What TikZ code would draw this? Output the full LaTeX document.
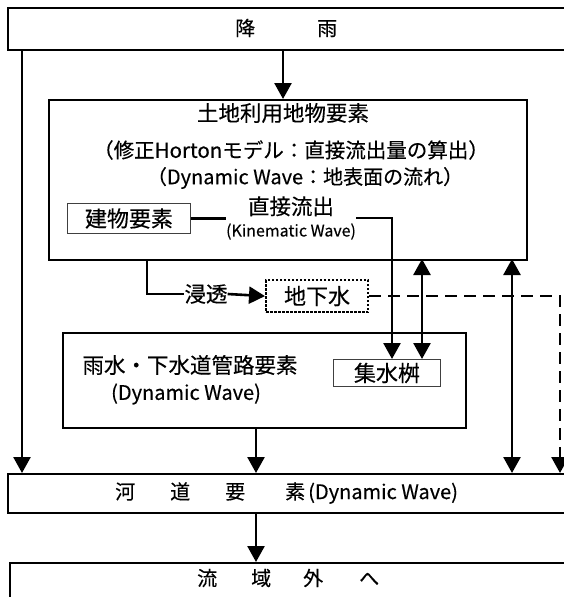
\documentclass[tikz,border=0pt]{standalone}
\usepackage{fontspec}
\setmainfont{Noto Sans CJK JP}[FakeBold=0.35]
\usetikzlibrary{arrows.meta}
\tikzset{
  box/.style={draw, line width=1.5pt, inner sep=0pt, anchor=north west},
  thinbox/.style={draw=black!75, line width=1pt, inner sep=0pt, anchor=north west, font=\fontsize{22}{26}\selectfont},
  dotbox/.style={draw, line width=2.2pt, dash pattern=on 2.4pt off 1.6pt, inner sep=0pt, anchor=north west, font=\fontsize{22}{26}\selectfont},
  txt/.style={inner sep=0pt, font=\fontsize{20}{24}\selectfont},
  bigtxt/.style={inner sep=0pt, font=\fontsize{21.5}{25}\selectfont},
  conn/.style={line width=2.6pt},
  arr/.style={line width=2.6pt, -{Triangle[length=16pt,width=17pt]}},
  darr/.style={line width=2.6pt, {Triangle[length=16pt,width=17pt]}-{Triangle[length=16pt,width=17pt]}},
  dasharr/.style={line width=2.6pt, dash pattern=on 12pt off 7pt, -{Triangle[length=16pt,width=17pt]}},
}
\begin{document}
\begin{tikzpicture}[x=1pt,y=-1pt]
\useasboundingbox (0,0) rectangle (564,597);
\clip (0,0) rectangle (564,597);
% boxes
\node[box, minimum width=700pt, minimum height=42pt] (rain) at (7,7) {};
\node[box, minimum width=478pt, minimum height=160pt] (land) at (48,99) {};
\node[thinbox, minimum width=123pt, minimum height=30pt] (build) at (67,203) {建物要素};
\node[dotbox, minimum width=102pt, minimum height=32pt] (gw) at (265,279) {地下水};
\node[box, minimum width=403pt, minimum height=95pt] (sewer) at (62,332) {};
\node[thinbox, minimum width=107pt, minimum height=27pt] (catch) at (333,359) {集水桝};
\node[box, minimum width=700pt, minimum height=39pt] (river) at (7,473) {};
\node[box, minimum width=700pt, minimum height=100pt] (out) at (9,562) {};
% texts
\node[txt, anchor=west] (raintxt) at (235,28) {降\hspace{62pt}雨};
\node[bigtxt] (landt1) at (283,113) {土地利用地物要素};
\node[txt, font=\fontsize{20.5}{24}\selectfont] (landt2) at (291,150) {（修正Hortonモデル：直接流出量の算出）};
\node[txt] (landt3) at (305,178) {（Dynamic Wave：地表面の流れ）};
\node[bigtxt, align=center] (runoff) at (291,218) {直接流出\\[-3pt]{\fontsize{16}{18}\selectfont (Kinematic Wave)}};
\node[bigtxt] (infil) at (206,294) {浸透};
\node[bigtxt] (sewert1) at (190,365) {雨水・下水道管路要素};
\node[txt] (sewert2) at (186,394) {(Dynamic Wave)};
\node[txt, anchor=west] (rivert) at (115,493) {河\hspace{35pt}道\hspace{35pt}要\hspace{40pt}素\hspace{3pt}(Dynamic Wave)};
\node[txt, anchor=west] (outt) at (197,578) {流\hspace{34pt}域\hspace{32pt}外\hspace{36pt}へ};
% coordinates
\coordinate (r1) at (283,49);   \coordinate (l1) at (283,99);
\coordinate (a1) at (22,49);    \coordinate (a2) at (22,473);
\coordinate (i1) at (147,259);
\coordinate (c1) at (392,359);
\coordinate (d1) at (422,259);  \coordinate (d2) at (422,359);
\coordinate (e1) at (512,259);  \coordinate (e2) at (512,473);
\coordinate (g2) at (560,473);
\coordinate (s1) at (256,427);  \coordinate (s2) at (256,473);
\coordinate (v1) at (256,512);  \coordinate (v2) at (256,562);
% connectors
\draw[arr] (r1) -- (l1);
\draw[arr] (a1) -- (a2);
\draw[conn] (build.east) -- (runoff.west |- build.east);
\draw[arr] (runoff.east) -| (c1);
\draw[darr] (d1) -- (d2);
\draw[conn] (i1) |- (infil.west);
\draw[arr] (infil.east) -- (gw.west);
\draw[dasharr] (gw.east) -| (g2);
\draw[darr] (e1) -- (e2);
\draw[arr] (s1) -- (s2);
\draw[arr] (v1) -- (v2);
\end{tikzpicture}
\end{document}
